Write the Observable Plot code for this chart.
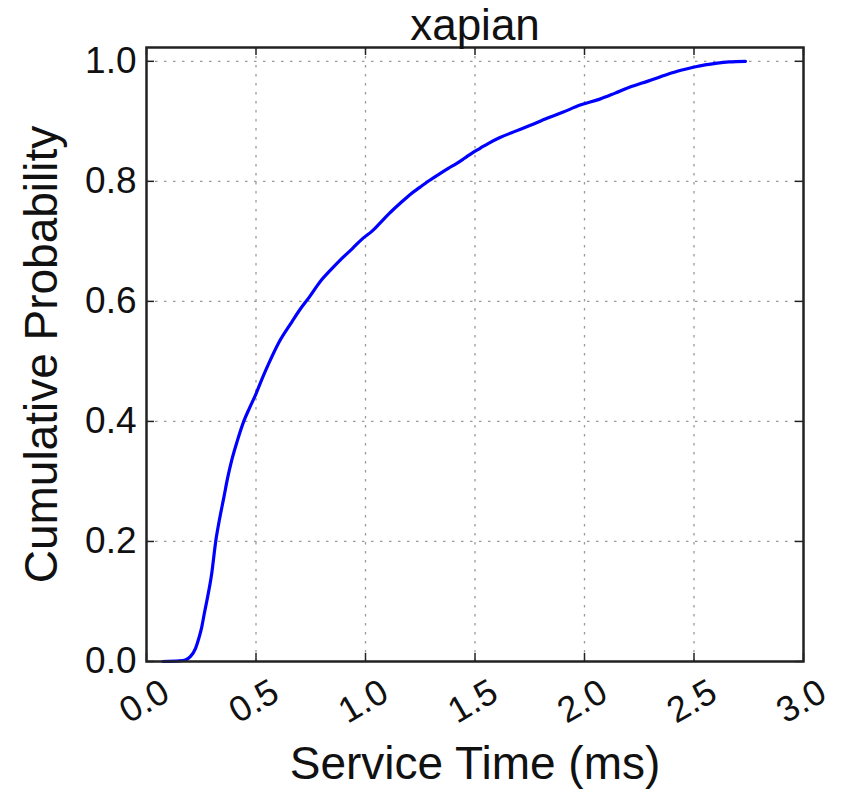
<!DOCTYPE html>
<html>
<head>
<meta charset="utf-8">
<script src="https://cdn.jsdelivr.net/npm/d3@7"></script>
<script src="https://cdn.jsdelivr.net/npm/@observablehq/plot@0.6"></script>
<style>
  html, body { margin: 0; padding: 0; background: #fff; }
  svg { display: block; }
</style>
</head>
<body>
<div id="chart"></div>
<script>
const title = "xapian";
const xLabel = "Service Time (ms)";
const yLabel = "Cumulative Probability";
const xTicks = [0, 0.5, 1.0, 1.5, 2.0, 2.5, 3.0];
const yTicks = [0, 0.2, 0.4, 0.6, 0.8, 1.0];
const serviceTime = [0.075, 0.15, 0.18, 0.20, 0.224, 0.24, 0.252, 0.264, 0.275, 0.298, 0.316, 0.335, 0.353, 0.37, 0.389, 0.415, 0.444, 0.47, 0.50, 0.53, 0.56, 0.605, 0.664, 0.70, 0.745, 0.791, 0.84, 0.882, 0.94, 0.988, 1.03, 1.065, 1.11, 1.157, 1.20, 1.248, 1.29, 1.34, 1.38, 1.417, 1.45, 1.49, 1.523, 1.56, 1.614, 1.674, 1.75, 1.829, 1.90, 1.98, 2.07, 2.14, 2.208, 2.29, 2.377, 2.44, 2.497, 2.55, 2.606, 2.66, 2.735];
const cumProb = [0, 0.001, 0.003, 0.008, 0.022, 0.04, 0.057, 0.08, 0.10, 0.147, 0.20, 0.24, 0.273, 0.305, 0.335, 0.368, 0.40, 0.422, 0.446, 0.473, 0.498, 0.532, 0.566, 0.586, 0.608, 0.632, 0.652, 0.668, 0.688, 0.705, 0.717, 0.73, 0.747, 0.763, 0.777, 0.79, 0.801, 0.813, 0.822, 0.83, 0.838, 0.848, 0.855, 0.863, 0.873, 0.882, 0.893, 0.905, 0.915, 0.927, 0.937, 0.947, 0.957, 0.967, 0.978, 0.985, 0.99, 0.994, 0.997, 0.999, 1.0];

const data = serviceTime.map((x, i) => ({x, y: cumProb[i]}));

const W = 841, H = 789;
const mL = 146, mR = 38, mT = 47, mB = 128;
const pw = W - mL - mR, ph = H - mT - mB;
const font = "'Liberation Sans', Arial, Helvetica, sans-serif";
const gridStyle = {stroke: "#999", strokeWidth: 1.3, strokeDasharray: "2.5,6.5"};

const chart = Plot.plot({
  width: W,
  height: H,
  marginLeft: mL, marginRight: mR, marginTop: mT, marginBottom: mB,
  style: {fontFamily: font, background: "#fff", color: "#111"},
  x: {domain: [0, 3], axis: null},
  y: {domain: [0, 1.023], axis: null},
  marks: [
    Plot.ruleX(xTicks.slice(1, -1), {x: d => d, ...gridStyle}),
    Plot.ruleY(yTicks.slice(1), {y: d => d, ...gridStyle}),
    Plot.tickX(xTicks, {x: d => d, insetTop: ph - 8, stroke: "#222", strokeWidth: 1.5}),
    Plot.tickX(xTicks, {x: d => d, insetBottom: ph - 8, stroke: "#222", strokeWidth: 1.5}),
    Plot.tickY(yTicks, {y: d => d, insetRight: pw - 8, stroke: "#222", strokeWidth: 1.5}),
    Plot.tickY(yTicks, {y: d => d, insetLeft: pw - 8, stroke: "#222", strokeWidth: 1.5}),
    Plot.line(data, {x: "x", y: "y", stroke: "#0000ff", strokeWidth: 3.2, curve: "monotone-x"}),
    Plot.frame({stroke: "#222", strokeWidth: 2.5}),
    Plot.text(yTicks, {y: d => d, text: d => d.toFixed(1), frameAnchor: "left", dx: -10, textAnchor: "end", lineAnchor: "middle", fontSize: 37, fill: "#111"}),
    Plot.text(xTicks, {x: d => d, text: d => d.toFixed(1), frameAnchor: "bottom", dx: -2, dy: 40, rotate: -30, textAnchor: "middle", lineAnchor: "middle", fontSize: 36, fill: "#111"}),
    Plot.text([title], {text: d => d, frameAnchor: "top", dy: -8, lineAnchor: "bottom", fontSize: 44, fill: "#111"}),
    Plot.text([xLabel], {text: d => d, frameAnchor: "bottom", dy: 117, lineAnchor: "bottom", fontSize: 46, fill: "#111"}),
    Plot.text([yLabel], {text: d => d, frameAnchor: "left", dx: -104, rotate: -90, textAnchor: "middle", lineAnchor: "middle", fontSize: 46, fill: "#111"})
  ]
});
document.getElementById("chart").appendChild(chart);
</script>
</body>
</html>
